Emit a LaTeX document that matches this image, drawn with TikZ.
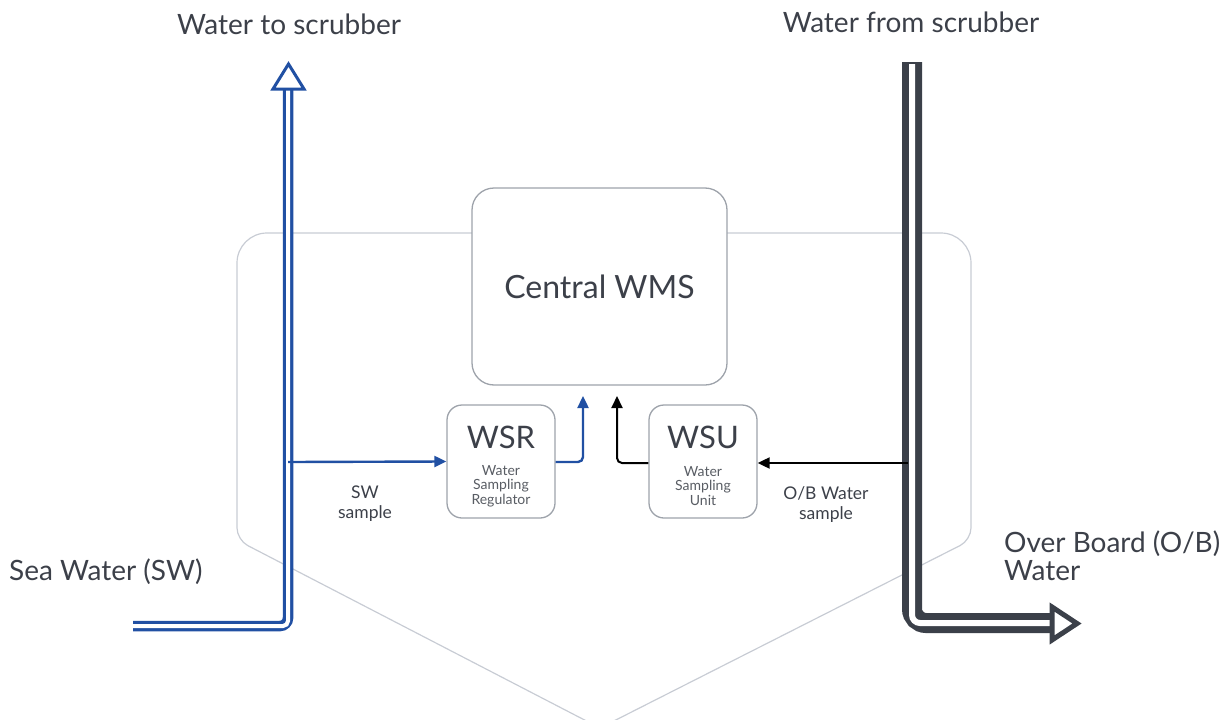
\documentclass[tikz,border=0pt]{standalone}
\usepackage{fontspec}
\setmainfont{Lato}
\usetikzlibrary{arrows.meta}
\definecolor{pipeblue}{HTML}{2150A3}
\definecolor{pipedark}{HTML}{3B4049}
\definecolor{txt}{HTML}{3C4049}
\definecolor{boxline}{HTML}{9EA3AB}
\definecolor{hull}{HTML}{C8CCD4}
\tikzset{
  lbl/.style={text=txt, inner sep=0pt},
  bigl/.style={lbl, font=\fontsize{28}{32}\selectfont},
  smalll/.style={lbl, font=\fontsize{17.5}{20}\selectfont, align=center},
  tinyl/.style={lbl, text=txt!85, font=\fontsize{14}{14.5}\selectfont, align=center},
  unit/.style={draw=boxline, line width=1.3pt, fill=white, rounded corners=15pt, minimum width=108pt, minimum height=113pt, inner sep=0pt},
  unitl/.style={lbl, font=\fontsize{31}{34}\selectfont},
  sampleblue/.style={draw=pipeblue, line width=2.4pt, -{Triangle[length=12pt,width=11pt]}},
  sampledark/.style={draw=black, line width=2pt, -{Triangle[length=12pt,width=11pt]}},
}
\begin{document}
\begin{tikzpicture}[x=1pt,y=-1pt]
\useasboundingbox (0,0) rectangle (1229,720);
% hull outline
\draw[hull, line width=1.2pt, rounded corners=12pt] (600,728) -- (237,540) [rounded corners=30pt] -- (237,233) -- (971,233) [rounded corners=12pt] -- (971,540) -- cycle;
% central box
\node[draw=boxline, line width=1.3pt, fill=white, rounded corners=22pt, minimum width=255pt, minimum height=197pt, inner sep=0pt] (wms) at (599.5,286.5) {};
\node[lbl, font=\fontsize{32}{36}\selectfont] (wmst) at (wms.center) {Central WMS};
% units
\node[unit] (wsr) at (501,461.5) {};
\node[unit] (wsu) at (703,461.5) {};
\node[unitl] (wsrt) at (501,437) {WSR};
\node[unitl] (wsut) at (703,437) {WSU};
\node[tinyl] (wsrs) at (501,486) {Water\\Sampling\\Regulator};
\node[tinyl] (wsus) at (703,486) {Water\\Sampling\\Unit};
% coordinates for pipes
\coordinate (swin) at (133,626);
\coordinate (swcorner) at (288,626);
\coordinate (swtop) at (288,89);
\coordinate (swtap) at (288,462);
\coordinate (obtop) at (912,62);
\coordinate (obcorner) at (912,623);
\coordinate (obend) at (1050,623);
\coordinate (obtap) at (908,463);
\coordinate (wsrup) at (583,462);
\coordinate (wsrtip) at (583,396);
\coordinate (wsuup) at (617,463);
\coordinate (wsutip) at (617,396);
% blue pipe
\draw[pipeblue, line width=10.5pt, rounded corners=8pt] (swin) -- (swcorner) -- (swtop);
\draw[white, line width=4pt, rounded corners=5pt] ([xshift=-2pt]swin) -- (swcorner) -- ([yshift=1pt]swtop);
\draw[pipeblue, line width=3pt, fill=white, line join=miter] (273,89) -- (288.5,64) -- (304,89) -- cycle;
% dark pipe
\draw[pipedark, line width=20pt, rounded corners=14pt] (obtop) -- (obcorner) -- (obend);
\draw[white, line width=6pt, rounded corners=8pt] ([yshift=-2pt]obtop) -- (obcorner) -- (obend);
\draw[pipedark, line width=5pt, fill=white, line join=miter] (1052,607) -- (1077,623.5) -- (1052,640) -- cycle;
% sample lines
\draw[sampleblue] (swtap) -- (wsr.west);
\draw[sampleblue, rounded corners=5pt] (wsr.east |- swtap) -- (wsrup) -- (wsrtip);
\draw[sampledark] (obtap) -- (wsu.east |- obtap);
\draw[sampledark, rounded corners=5pt] (wsu.west |- obtap) -- (wsuup) -- (wsutip);
% labels
\node[bigl] (l1) at (289,24) {Water to scrubber};
\node[bigl] (l2) at (911,22) {Water from scrubber};
\node[bigl, anchor=west] (l3) at (9,572) {Sea Water (SW)};
\node[bigl, anchor=west, align=left, font=\fontsize{28}{28}\selectfont] (l4) at (1004,556) {Over Board (O/B)\\Water};
\node[smalll] (l5) at (365,504) {SW\\sample};
\node[smalll] (l6) at (826,505) {O/B Water\\sample};
\end{tikzpicture}
\end{document}
